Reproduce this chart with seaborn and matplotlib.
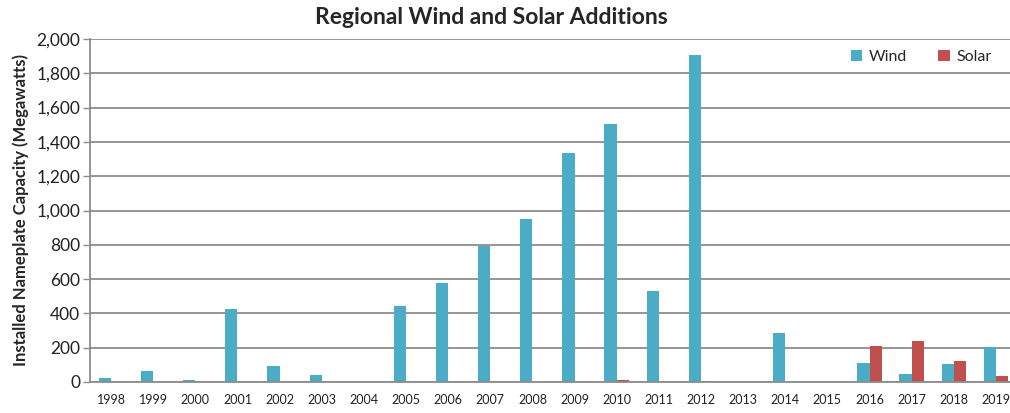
import matplotlib
matplotlib.use('Agg')
import matplotlib.pyplot as plt
from matplotlib.ticker import FuncFormatter, FixedLocator
import seaborn as sns
import pandas as pd
import numpy as np

years = [str(y) for y in range(1998, 2020)]
wind = [22, 64, 10, 423, 95, 38, 0, 445, 580, 795, 950, 1335, 1507, 530,
        1905, 0, 287, 0, 109, 47, 103, 202]
solar = [0, 0, 0, 0, 0, 0, 0, 0, 0, 0, 0, 0, 12, 0,
         8, 0, 0, 0, 208, 240, 121, 36]

df = pd.DataFrame({'year': years * 2,
                   'mw': wind + solar,
                   'source': ['Wind'] * len(years) + ['Solar'] * len(years)})

sns.set_style('white')
plt.rcParams['font.family'] = ['Lato', 'DejaVu Sans']

fig = plt.figure(figsize=(10.1, 4.13), dpi=100)
ax = fig.add_axes([90 / 1010, 31 / 413, 927 / 1010, 343 / 413])

sns.barplot(data=df, x='year', y='mw', hue='source', ax=ax,
            palette={'Wind': '#4BACC6', 'Solar': '#C0504D'},
            width=0.58, gap=0, saturation=1, errorbar=None,
            edgecolor='none')

ax.set_xlim(-0.5, len(years) - 0.5)
ax.set_ylim(0, 2000)
ax.set_yticks(np.arange(0, 2001, 200))
ax.yaxis.set_major_formatter(FuncFormatter(lambda v, p: f'{int(v):,}'))
ax.grid(axis='y', color='#8c8c8c', lw=1.3)
ax.set_axisbelow(True)

ax.xaxis.set_minor_locator(FixedLocator(np.arange(-0.5, len(years), 1)))
ax.tick_params(axis='x', which='major', length=0, labelsize=9, pad=9, colors='#222222')
ax.tick_params(axis='x', which='minor', length=5, width=1, color='#8c8c8c', direction='out')
ax.tick_params(axis='y', length=5, width=1, color='#8c8c8c', labelsize=12.5, pad=2,
               left=True, direction='out', labelcolor='#222222')

for s in ['top', 'right']:
    ax.spines[s].set_visible(False)
for s in ['left', 'bottom']:
    ax.spines[s].set_color('#8c8c8c')
    ax.spines[s].set_linewidth(1.3)

ax.set_xlabel('')
ax.set_ylabel('Installed Nameplate Capacity (Megawatts)', fontsize=12,
              fontweight='bold', labelpad=5)

ax.get_legend().remove()
h, l = ax.get_legend_handles_labels()
fig.legend(h, l, loc='center', bbox_to_anchor=(921 / 1010, 1 - 57 / 413),
           ncol=2, frameon=False, fontsize=11.5, handlelength=0.7,
           handleheight=0.7, handletextpad=0.4, columnspacing=2.0)

fig.text(491 / 1010, 1 - 17 / 413, 'Regional Wind and Solar Additions',
         ha='center', va='center', fontsize=16.5, fontweight='bold')

fig.savefig('out.png', dpi=100)
